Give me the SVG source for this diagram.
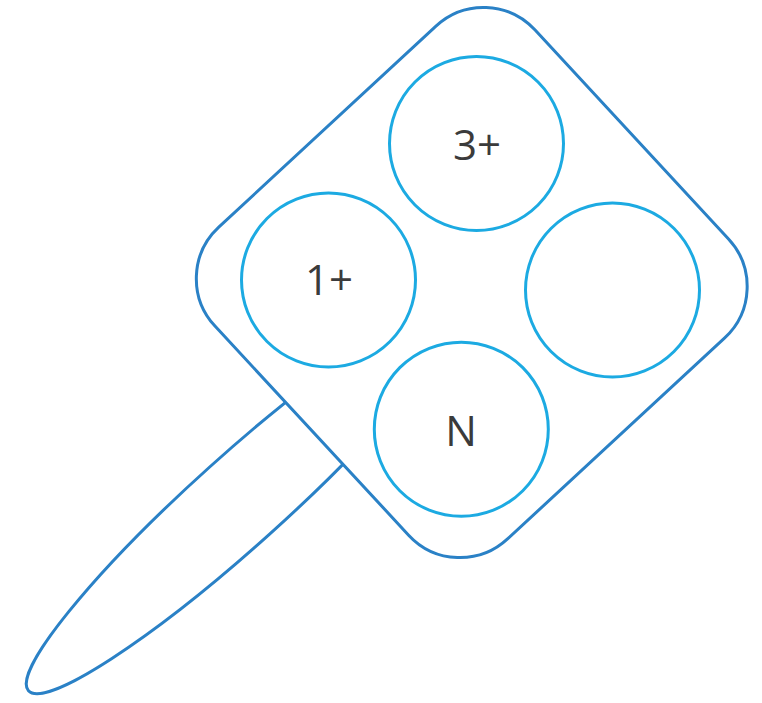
<svg xmlns="http://www.w3.org/2000/svg" width="762" height="703" viewBox="0 0 762 703">
<style>
.outline{fill:#ffffff;stroke:#2a81c6;stroke-width:3}
.handle{fill:#ffffff;stroke:#2a81c6;stroke-width:3}
.btn{fill:#ffffff;stroke:#1caae2;stroke-width:3}
.lbl{font-family:"Open Sans","Noto Sans","Liberation Sans",sans-serif;font-size:42px;fill:#3b3b3b;text-anchor:middle}
</style>
<rect width="762" height="703" fill="#ffffff"/>
<g id="handle">
<ellipse class="handle" cx="239.5" cy="500.7" rx="284" ry="45" transform="rotate(-42 239.5 500.7)"/>
</g>
<g id="body">
<rect class="outline" x="-212.5" y="-218" width="425" height="436" rx="70" ry="70" transform="translate(471.75 282.5) rotate(47.2)"/>
</g>
<g id="btn-3plus">
<circle class="btn" cx="476.5" cy="143.5" r="87"/>
<text class="lbl" x="477" y="160">3+</text>
</g>
<g id="btn-1plus">
<circle class="btn" cx="328.5" cy="280" r="87"/>
<text class="lbl" x="329" y="295">1+</text>
</g>
<g id="btn-blank">
<circle class="btn" cx="612.5" cy="290" r="87"/>
</g>
<g id="btn-N">
<circle class="btn" cx="461.3" cy="429.2" r="87"/>
<text class="lbl" x="461" y="446">N</text>
</g>
<g id="connectors"/>
</svg>
